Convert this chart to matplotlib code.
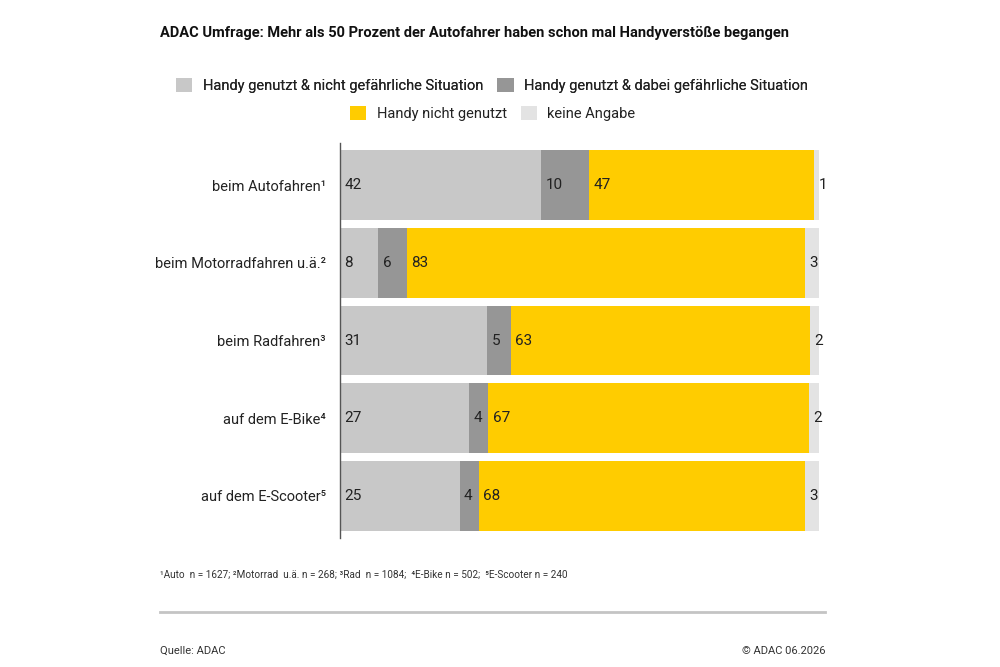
import matplotlib
matplotlib.use("Agg")
import matplotlib.pyplot as plt
from matplotlib.patches import Patch
from matplotlib.lines import Line2D

plt.rcParams['font.family'] = ['Roboto', 'DejaVu Sans']

categories = ["beim Autofahren¹", "beim Motorradfahren u.ä.²", "beim Radfahren³",
              "auf dem E-Bike⁴", "auf dem E-Scooter⁵"]
genutzt_ok = [42, 8, 31, 27, 25]
genutzt_gefahr = [10, 6, 5, 4, 4]
nicht_genutzt = [47, 83, 63, 67, 68]
keine_angabe = [1, 3, 2, 2, 3]

series = [genutzt_ok, genutzt_gefahr, nicht_genutzt, keine_angabe]
names = ["Handy genutzt & nicht gefährliche Situation",
         "Handy genutzt & dabei gefährliche Situation",
         "Handy nicht genutzt", "keine Angabe"]
colors = ["#c8c8c8", "#969696", "#ffcc00", "#e3e3e3"]

# each row is scaled to its own total (rounding gives 101 for one row)
totals = [sum(col) for col in zip(*series)]

fig = plt.figure(figsize=(10, 6.67), dpi=100)
ax = fig.add_axes([0.34, 0.193, 0.479, 0.593])

y = range(len(categories))
left = [0.0] * len(categories)
for k, vals in enumerate(series):
    widths = [v * 100.0 / t for v, t in zip(vals, totals)]
    ax.barh(y, widths, left=left, height=0.9, color=colors[k], linewidth=0)
    for i, v in enumerate(vals):
        ax.text(left[i] + 0.9, i, str(v), va='center', ha='left',
                fontsize=11, color='#222222')
    left = [a + b for a, b in zip(left, widths)]

ax.set_xlim(0, 100)
ax.set_ylim(4.55, -0.55)
ax.set_yticks(list(y))
ax.set_yticklabels(categories, fontsize=10.5, color='#222222')
ax.tick_params(axis='y', length=0, pad=10)
ax.set_xticks([])
for s in ['top', 'right', 'bottom']:
    ax.spines[s].set_visible(False)
ax.spines['left'].set_color('#555555')
ax.spines['left'].set_linewidth(1)

# title
fig.text(0.16, 0.95, "ADAC Umfrage: Mehr als 50 Prozent der Autofahrer haben schon mal Handyverstöße begangen",
         fontsize=10.5, fontweight='bold', va='center', ha='left', color='#111111')

# legend, two centred rows
h = [Patch(facecolor=c, edgecolor='none') for c in colors]
leg1 = fig.legend(h[:2], names[:2], ncol=2, loc='center', bbox_to_anchor=(0.492, 0.872),
                  frameon=False, fontsize=10.5, handlelength=1.1, handleheight=1.1,
                  columnspacing=1.0, handletextpad=0.7, labelcolor='#222222')
fig.add_artist(leg1)
fig.legend(h[2:], names[2:], ncol=2, loc='center', bbox_to_anchor=(0.493, 0.830),
           frameon=False, fontsize=10.5, handlelength=1.1, handleheight=1.1,
           columnspacing=1.0, handletextpad=0.7, labelcolor='#222222')

# footnote and source
fig.text(0.16, 1 - 575 / 667, "¹Auto  n = 1627; ²Motorrad  u.ä. n = 268; ³Rad  n = 1084;  ⁴E-Bike n = 502;  ⁵E-Scooter n = 240",
         fontsize=7.2, va='center', ha='left', color='#333333')
fig.add_artist(Line2D([0.16, 0.825], [1 - 612 / 667] * 2, color='#c4c4c4', linewidth=2))
fig.text(0.16, 1 - 651 / 667, "Quelle: ADAC", fontsize=8, va='center', ha='left', color='#333333')
fig.text(0.825, 1 - 651 / 667, "© ADAC 06.2026", fontsize=8, va='center', ha='right', color='#333333')

fig.savefig("out.png", dpi=100, facecolor='white')
